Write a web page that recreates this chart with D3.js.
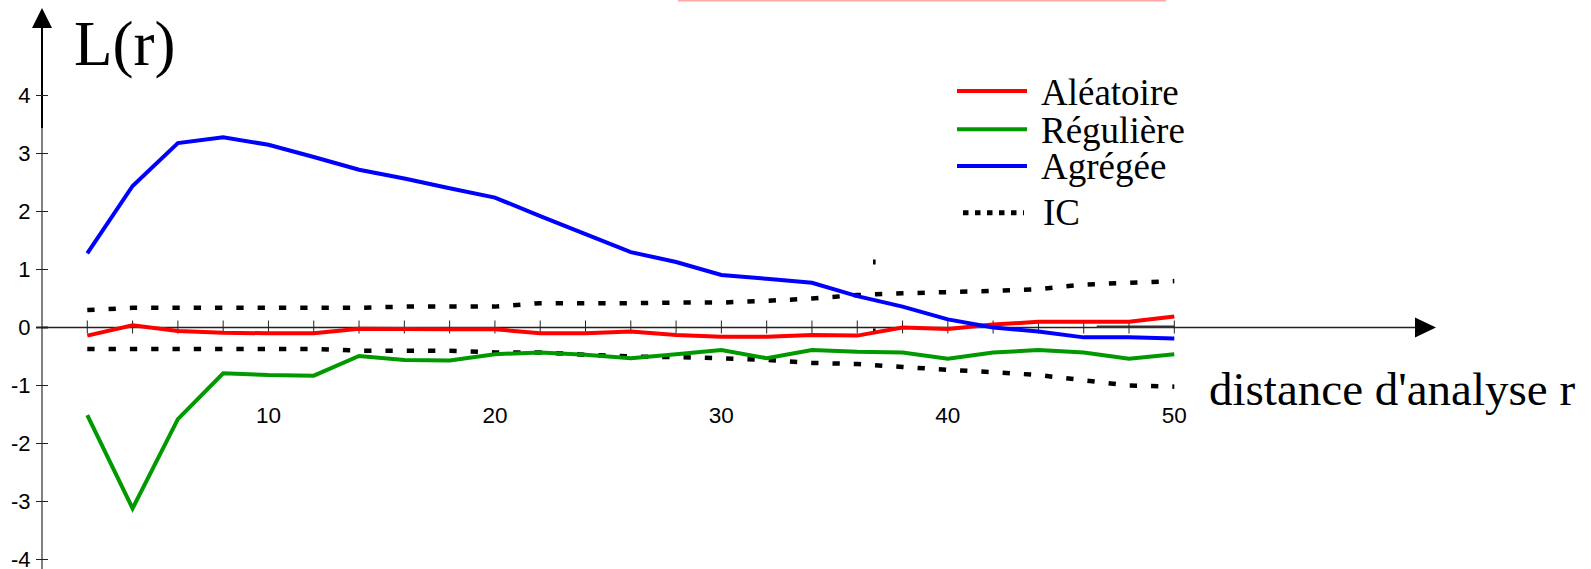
<!DOCTYPE html>
<html>
<head>
<meta charset="utf-8">
<script src="https://cdn.jsdelivr.net/npm/d3@7"></script>
<style>
  html, body { margin: 0; padding: 0; background: #fff; }
  svg { display: block; }
</style>
</head>
<body>
<svg id="chart" width="1591" height="569"></svg>
<script>
// ---- Data ----
const rValues = [2,4,6,8,10,12,14,16,18,20,22,24,26,28,30,32,34,36,38,40,42,44,46,48,50];
const aleatoire = [-0.14,0.04,-0.06,-0.09,-0.10,-0.10,-0.02,-0.025,-0.03,-0.03,-0.10,-0.10,-0.07,-0.13,-0.16,-0.16,-0.13,-0.14,0.00,-0.025,0.05,0.10,0.10,0.10,0.19];
const reguliere = [-1.51,-3.12,-1.58,-0.79,-0.82,-0.83,-0.49,-0.56,-0.57,-0.46,-0.43,-0.47,-0.53,-0.46,-0.39,-0.53,-0.39,-0.42,-0.43,-0.54,-0.43,-0.39,-0.43,-0.54,-0.46];
const agregee = [1.28,2.44,3.18,3.28,3.15,2.94,2.72,2.57,2.40,2.24,1.92,1.61,1.30,1.13,0.905,0.84,0.77,0.54,0.36,0.14,0.00,-0.07,-0.17,-0.17,-0.19];
const icUpper = [0.30,0.34,0.34,0.34,0.34,0.34,0.34,0.36,0.36,0.36,0.42,0.42,0.42,0.43,0.43,0.46,0.50,0.56,0.59,0.61,0.63,0.66,0.74,0.77,0.80];
const icLower = [-0.37,-0.37,-0.37,-0.37,-0.37,-0.37,-0.40,-0.40,-0.40,-0.43,-0.43,-0.47,-0.50,-0.51,-0.53,-0.56,-0.61,-0.63,-0.68,-0.73,-0.77,-0.82,-0.91,-1.00,-1.02];
const yTickValues = [4,3,2,1,0,-1,-2,-3,-4];
const xTickValues = [2,4,6,8,10,12,14,16,18,20,22,24,26,28,30,32,34,36,38,40,42,44,46,48,50];
const xLabelValues = [10,20,30,40,50];
const seriesNames = ["Aléatoire","Régulière","Agrégée","IC"];
const seriesColors = ["#ff0000","#009900","#0000ff","#000000"];

// ---- Scales ----
const x = d3.scaleLinear().domain([0, 50]).range([42, 1174.3]);
const y = d3.scaleLinear().domain([-4, 4]).range([559.5, 95.5]);

const svg = d3.select("#chart");

// pink stray line at top
svg.append("rect").attr("x", 678).attr("y", 0).attr("width", 488).attr("height", 1.5).attr("fill", "#ffa8a8");

// ---- Y axis ----
const yAxisG = svg.append("g").attr("transform", `translate(${x(0)},0)`);
yAxisG.append("line").attr("x1", 0).attr("x2", 0).attr("y1", 128).attr("y2", 569)
  .attr("stroke", "#808080").attr("stroke-width", 2);
yAxisG.append("line").attr("x1", 0).attr("x2", 0).attr("y1", 26).attr("y2", 128)
  .attr("stroke", "#000").attr("stroke-width", 2);
yAxisG.append("path").attr("d", "M0,8 L-10,28 L10,28 Z").attr("fill", "#000");
yAxisG.selectAll(".ytick").data(yTickValues).enter().append("line")
  .attr("x1", -6).attr("x2", 6).attr("y1", d => y(d)).attr("y2", d => y(d))
  .attr("stroke", "#222").attr("stroke-width", d => d === 0 ? 2 : 1);
yAxisG.selectAll(".ylab").data(yTickValues).enter().append("text")
  .attr("x", -11.5).attr("y", d => y(d) + 7.8)
  .attr("text-anchor", "end")
  .attr("font-family", "'Liberation Sans', Arial, sans-serif")
  .attr("font-size", 22).attr("fill", "#000")
  .text(d => d);

// ---- X axis ----
const y0 = y(0);
svg.append("line").attr("x1", x(0)).attr("x2", 1416).attr("y1", y0).attr("y2", y0)
  .attr("stroke", "#222").attr("stroke-width", 1.3);
svg.append("line").attr("x1", 1096.7).attr("x2", x(50)).attr("y1", y0 - 0.8).attr("y2", y0 - 0.8)
  .attr("stroke", "#333").attr("stroke-width", 2.2);
svg.append("path").attr("d", `M1436,${y0} L1415,${y0 - 10} L1415,${y0 + 10} Z`).attr("fill", "#000");
svg.selectAll(".xtick").data(xTickValues).enter().append("line")
  .attr("x1", d => x(d)).attr("x2", d => x(d)).attr("y1", y0 - 7).attr("y2", y0 + 6)
  .attr("stroke", "#222").attr("stroke-width", 1);
svg.selectAll(".xlab").data(xLabelValues).enter().append("text")
  .attr("x", d => x(d)).attr("y", 423)
  .attr("text-anchor", "middle")
  .attr("font-family", "'Liberation Sans', Arial, sans-serif")
  .attr("font-size", 22.5).attr("fill", "#000")
  .text(d => d);

// small stray marks
svg.append("rect").attr("x", 873).attr("y", 259.5).attr("width", 2.6).attr("height", 5).attr("fill", "#000");
svg.append("rect").attr("x", 873).attr("y", 328.5).attr("width", 2.6).attr("height", 3).attr("fill", "#000");

// ---- Series ----
const line = d3.line().x((d, i) => x(rValues[i])).y(d => y(d));

function drawIC(vals) {
  svg.append("path").datum(vals).attr("d", line)
    .attr("fill", "none").attr("stroke", "#000").attr("stroke-width", 4.5)
    .attr("stroke-dasharray", "7.3,14");
}
drawIC(icUpper);
drawIC(icLower);

[[reguliere, seriesColors[1]], [aleatoire, seriesColors[0]], [agregee, seriesColors[2]]].forEach(([vals, col]) => {
  svg.append("path").datum(vals).attr("d", line)
    .attr("fill", "none").attr("stroke", col).attr("stroke-width", 4)
    .attr("stroke-linejoin", "miter");
});

// ---- Titles ----
svg.append("text").attr("x", 74).attr("y", 65)
  .attr("font-family", "'Liberation Serif', 'Times New Roman', serif")
  .attr("font-size", 63).attr("fill", "#000").text("L(r)");
svg.append("text").attr("x", 1209).attr("y", 405)
  .attr("font-family", "'Liberation Serif', 'Times New Roman', serif")
  .attr("font-size", 47).attr("fill", "#000").text("distance d'analyse r");

// ---- Legend ----
const legendLineY = [91, 129.3, 166, 212.7];
const legendTextY = [105, 142.7, 179.3, 225];
const legend = svg.append("g");
seriesNames.forEach((name, i) => {
  const isIC = i === 3;
  legend.append("line")
    .attr("x1", isIC ? 963 : 957).attr("x2", isIC ? 1024 : 1027)
    .attr("y1", legendLineY[i]).attr("y2", legendLineY[i])
    .attr("stroke", seriesColors[i]).attr("stroke-width", isIC ? 5 : 4)
    .attr("stroke-dasharray", isIC ? "5.5,6.5" : null);
  legend.append("text").attr("x", isIC ? 1043 : 1041).attr("y", legendTextY[i])
    .attr("font-family", "'Liberation Serif', 'Times New Roman', serif")
    .attr("font-size", 37).attr("fill", "#000").text(name);
});
</script>
</body>
</html>
